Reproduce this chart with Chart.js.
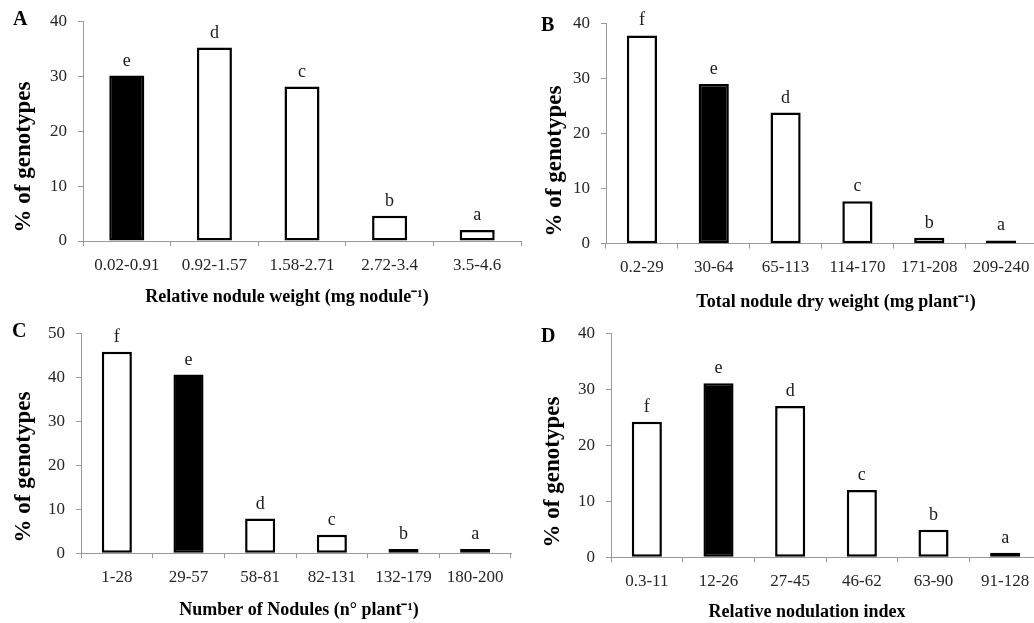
<!DOCTYPE html>
<html>
<head>
<meta charset="utf-8">
<script src="https://cdn.jsdelivr.net/npm/chart.js@4.4.1/dist/chart.umd.min.js"></script>
<style>
  html, body { margin: 0; padding: 0; background: #fff; overflow: hidden; }
  body { width: 1034px; height: 623px; position: relative; }
  canvas { position: absolute; }
</style>
</head>
<body>
<canvas id="chartA" width="525" height="312" style="left:0;top:0"></canvas>
<canvas id="chartB" width="515" height="316" style="left:525px;top:0"></canvas>
<canvas id="chartC" width="525" height="311" style="left:0;top:312px"></canvas>
<canvas id="chartD" width="520" height="311" style="left:525px;top:312px"></canvas>
<script>
// data
const labelsA = ["0.02-0.91", "0.92-1.57", "1.58-2.71", "2.72-3.4", "3.5-4.6"];
const valuesA = [30.1, 35.2, 28.1, 4.6, 2.0];
const lettersA = ["e", "d", "c", "b", "a"];

const labelsB = ["0.2-29", "30-64", "65-113", "114-170", "171-208", "209-240"];
const valuesB = [37.8, 29.0, 23.8, 7.7, 1.1, 0.6];
const lettersB = ["f", "e", "d", "c", "b", "a"];

const labelsC = ["1-28", "29-57", "58-81", "82-131", "132-179", "180-200"];
const valuesC = [45.8, 40.6, 7.9, 4.2, 1.0, 1.0];
const lettersC = ["f", "e", "d", "c", "b", "a"];

const labelsD = ["0.3-11", "12-26", "27-45", "46-62", "63-90", "91-128"];
const valuesD = [24.2, 31.1, 27.0, 12.0, 4.9, 0.8];
const lettersD = ["f", "e", "d", "c", "b", "a"];

const yTitle = "% of genotypes";
const SERIF = "'Liberation Serif', 'Times New Roman', serif";
const AXIS_GREY = "#9a9a9a";

Chart.defaults.font.family = SERIF;
Chart.defaults.color = "#262626";

// layout of each panel (page coords)
const panels = [
    {
        id: "chartA", panel: "A", labels: labelsA, values: valuesA, letters: lettersA,
        black: 0, yMax: 40, xTitle: "Relative nodule weight (mg nodule\u207B\u00B9)",
        box: { x: 0, y: 0, w: 525, h: 312 }, plot: { L: 83, R: 521, T: 16, B: 241 },
        panelAt: [13, 25], yTitleAt: [24, 157], xTitleAt: [287, 297], bar: 0.4,
    },
    {
        id: "chartB", panel: "B", labels: labelsB, values: valuesB, letters: lettersB,
        black: 1, yMax: 40, xTitle: "Total nodule dry weight (mg plant\u207B\u00B9)",
        box: { x: 525, y: 0, w: 515, h: 316 }, plot: { L: 606, R: 1037, T: 23.3, B: 243.7 },
        panelAt: [541, 31], yTitleAt: [555, 161], xTitleAt: [836, 302], bar: 0.42,
    },
    {
        id: "chartC", panel: "C", labels: labelsC, values: valuesC, letters: lettersC,
        black: 1, yMax: 50, xTitle: "Number of Nodules (n\u00B0 plant\u207B\u00B9)",
        box: { x: 0, y: 312, w: 525, h: 311 }, plot: { L: 81, R: 511, T: 329.3, B: 553.3 },
        panelAt: [12, 337], yTitleAt: [24, 467], xTitleAt: [299, 610], bar: 0.42,
    },
    {
        id: "chartD", panel: "D", labels: labelsD, values: valuesD, letters: lettersD,
        black: 1, yMax: 40, xTitle: "Relative nodulation index",
        box: { x: 525, y: 312, w: 520, h: 311 }, plot: { L: 611, R: 1041, T: 333.3, B: 557.3 },
        panelAt: [541, 342], yTitleAt: [553, 472], xTitleAt: [807, 612], bar: 0.42,
    },
];

const Y_AXIS_W = 40;

panels.forEach((p) => {
    const { box, plot } = p;
    const xAxisH = box.y + box.h - plot.B;

    // letters over the bars, panel letter and axis titles
    const textPlugin = {
        id: "panelText",
        afterDatasetsDraw(chart) {
            const ctx = chart.ctx;
            const meta = chart.getDatasetMeta(0);
            ctx.save();
            ctx.fillStyle = "#1a1a1a";
            ctx.font = "18px " + SERIF;
            ctx.textAlign = "center";
            ctx.textBaseline = "alphabetic";
            meta.data.forEach((bar, i) => {
                ctx.fillText(p.letters[i], bar.x, bar.y - 10);
            });

            ctx.fillStyle = "#000";
            ctx.font = "bold 20px " + SERIF;
            ctx.textAlign = "left";
            ctx.fillText(p.panel, p.panelAt[0] - box.x, p.panelAt[1] - box.y);

            ctx.font = "bold 18px " + SERIF;
            ctx.textAlign = "center";
            ctx.textBaseline = "middle";
            ctx.fillText(p.xTitle, p.xTitleAt[0] - box.x, p.xTitleAt[1] - box.y);

            ctx.translate(p.yTitleAt[0] - box.x, p.yTitleAt[1] - box.y);
            ctx.rotate(-Math.PI / 2);
            ctx.font = "bold 23px " + SERIF;
            ctx.fillText(yTitle, 0, 0);
            ctx.restore();
        },
    };

    new Chart(document.getElementById(p.id), {
        type: "bar",
        data: {
            labels: p.labels,
            datasets: [
                {
                    data: p.values,
                    backgroundColor: p.values.map((v, i) => (i === p.black ? "#000" : "#fff")),
                    borderColor: "#000",
                    borderWidth: 2.5,
                    borderSkipped: false,
                    barPercentage: p.bar,
                    categoryPercentage: 1,
                },
            ],
        },
        options: {
            responsive: false,
            animation: false,
            events: [],
            layout: {
                padding: {
                    left: plot.L - box.x - Y_AXIS_W,
                    right: box.x + box.w - plot.R,
                    top: plot.T - box.y,
                    bottom: 0,
                },
            },
            plugins: {
                legend: { display: false },
                tooltip: { enabled: false },
            },
            scales: {
                x: {
                    grid: {
                        drawOnChartArea: false,
                        drawTicks: true,
                        tickLength: 5,
                        color: AXIS_GREY,
                    },
                    border: { color: AXIS_GREY, width: 1 },
                    ticks: { font: { size: 17 }, padding: 9, maxRotation: 0, autoSkip: false },
                    afterFit: (s) => { s.height = xAxisH; },
                },
                y: {
                    min: 0,
                    max: p.yMax,
                    grid: {
                        drawOnChartArea: false,
                        drawTicks: true,
                        tickLength: 5,
                        color: AXIS_GREY,
                    },
                    border: { color: AXIS_GREY, width: 1 },
                    ticks: { stepSize: 10, font: { size: 17 }, padding: 11 },
                    afterFit: (s) => { s.width = Y_AXIS_W; },
                },
            },
        },
        plugins: [textPlugin],
    });
});
</script>
</body>
</html>
